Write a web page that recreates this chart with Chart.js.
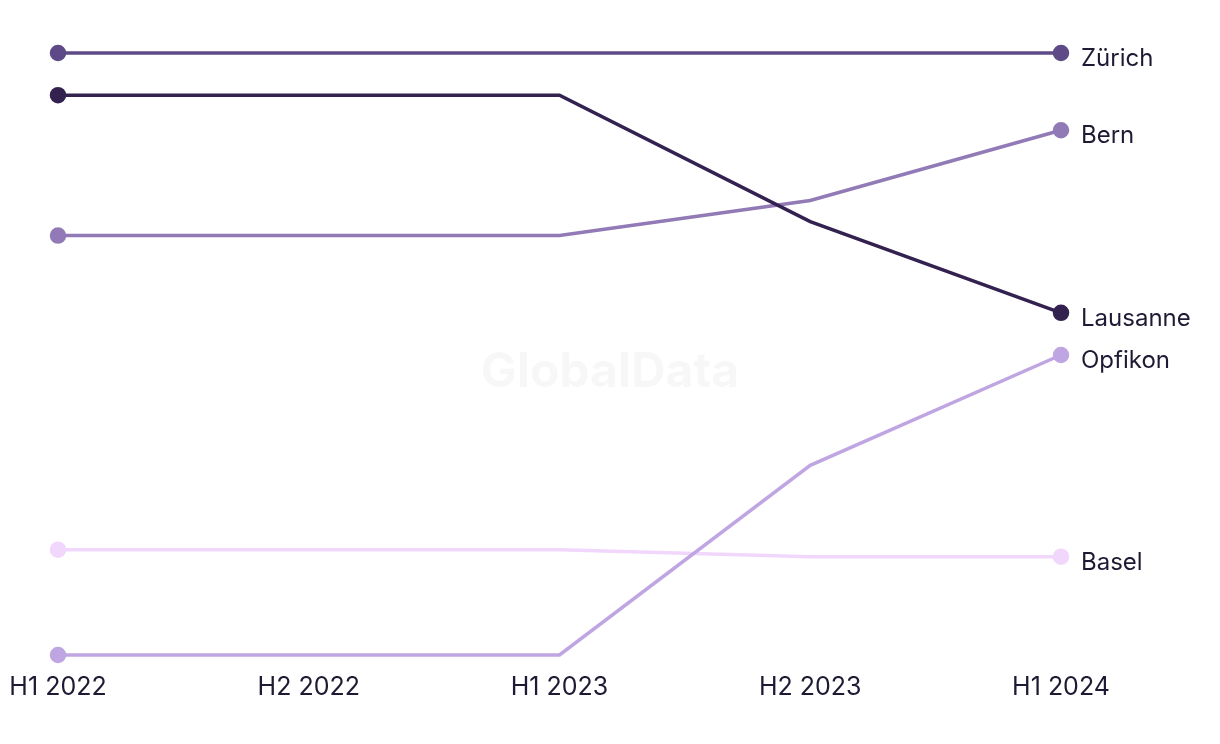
<!DOCTYPE html>
<html>
<head>
<meta charset="utf-8">
<script src="https://cdn.jsdelivr.net/npm/chart.js@4"></script>
<style>
  body { margin: 0; background: #fff; }
  canvas { display: block; }
</style>
</head>
<body>
<canvas id="Chart" width="1220" height="744"></canvas>
<script>
const periods = ['H1 2022', 'H2 2022', 'H1 2023', 'H2 2023', 'H1 2024'];

const zurich   = [60, 60, 60, 60, 60];
const lausanne = [55.8, 55.8, 55.8, 43.2, 34.1];
const bern     = [41.8, 41.8, 41.8, 45.3, 52.3];
const opfikon  = [0, 0, 0, 18.9, 29.9];
const basel    = [10.5, 10.5, 10.5, 9.8, 9.8];

const cities = ['Zürich', 'Lausanne', 'Bern', 'Opfikon', 'Basel'];
const colours = ['#5e4a87', '#33214f', '#917ab6', '#bfa6e2', '#f1d7fb'];

window.addEventListener('load', setup);

function setup() {
    const ctx = document.getElementById('Chart').getContext('2d');
    const series = [zurich, lausanne, bern, opfikon, basel];

    const endLabels = {
        id: 'endLabels',
        beforeDatasetsDraw(chart) {
            const c = chart.ctx;
            c.save();
            // watermark
            c.font = 'bold 48px Inter, "Noto Sans", sans-serif';
            c.fillStyle = 'rgba(0,0,0,0.03)';
            c.textAlign = 'center';
            c.textBaseline = 'middle';
            c.fillText('GlobalData', 610, 373);
            c.restore();
        },
        afterDatasetsDraw(chart) {
            const c = chart.ctx;
            c.save();
            c.font = '24px Inter, "Noto Sans", sans-serif';
            c.fillStyle = '#1d1b33';
            c.textAlign = 'left';
            c.textBaseline = 'middle';
            chart.data.datasets.forEach((ds, i) => {
                const meta = chart.getDatasetMeta(i);
                const pt = meta.data[meta.data.length - 1];
                c.fillText(ds.label, pt.x + 20, pt.y + 6);
            });
            c.restore();
        }
    };

    new Chart(ctx, {
        type: 'line',
        data: {
            labels: periods,
            datasets: series.map((d, i) => ({
                label: cities[i],
                data: d,
                borderColor: colours[i],
                backgroundColor: colours[i],
                borderWidth: 3.5,
                tension: 0,
                pointRadius: d.map((v, j) => (j === 0 || j === d.length - 1) ? 6.5 : 0),
                pointHoverRadius: 6.5,
                fill: false,
                clip: false
            }))
        },
        options: {
            responsive: false,
            animation: false,
            layout: { padding: { left: 58, right: 159, top: 53, bottom: 25 } },
            plugins: {
                legend: { display: false },
                tooltip: { enabled: false }
            },
            scales: {
                x: {
                    offset: false,
                    grid: { display: false, drawTicks: false },
                    border: { display: false },
                    afterFit(scale) {
                        scale.paddingLeft = 0;
                        scale.paddingRight = 0;
                    },
                    ticks: {
                        color: '#1d1b33',
                        font: { family: 'Inter, "Noto Sans", sans-serif', size: 25 },
                        padding: 17,
                        maxRotation: 0,
                        autoSkip: false
                    }
                },
                y: {
                    display: false,
                    min: 0,
                    max: 60
                }
            }
        },
        plugins: [endLabels]
    });
}
</script>
</body>
</html>
